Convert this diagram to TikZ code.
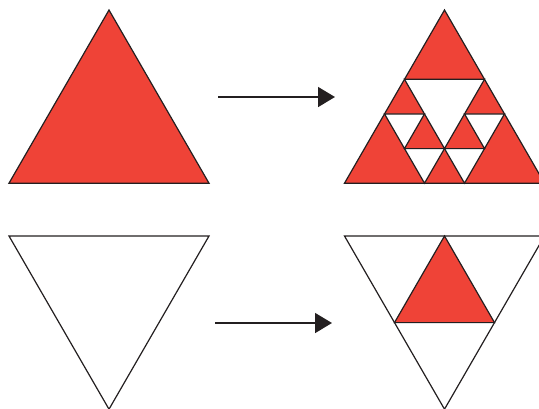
\documentclass[tikz,border=0pt]{standalone}
\usepackage{tikz}
\usetikzlibrary{arrows.meta}
\usepackage{xcolor}
\definecolor{sierred}{RGB}{239, 67, 55}
\definecolor{inkline}{RGB}{35, 31, 32}

\begin{document}
\begin{tikzpicture}[
        x=1pt, y=-1pt,
        redtri/.style={fill=sierred, draw=inkline, line width=1.2pt, line join=miter},
        holetri/.style={fill=white, draw=inkline, line width=1.2pt, line join=miter},
        arrow/.style={-{Triangle[length=17pt, width=20pt]}, line width=1.6pt, draw=inkline},
    ]
        \useasboundingbox (0,0) rectangle (539,408);

        % top row: full triangle -> subdivided triangle
        \draw[redtri] (109,10) -- (9,183.2) -- (209,183.2) -- cycle;

        \coordinate (top arrow start) at (218,97);
        \coordinate (top arrow end) at (335,97);
        \draw[arrow] (top arrow start) -- (top arrow end);

        \draw[redtri] (444.5,10) -- (344.5,183.2) -- (544.5,183.2) -- cycle;
        \draw[holetri] (404.5,79.3) -- (484.5,79.3) -- (444.5,148.6) -- cycle;
        \draw[holetri] (384.5,113.9) -- (424.5,113.9) -- (404.5,148.6) -- cycle;
        \draw[holetri] (464.5,113.9) -- (504.5,113.9) -- (484.5,148.6) -- cycle;
        \draw[holetri] (404.5,148.6) -- (444.5,148.6) -- (424.5,183.2) -- cycle;
        \draw[holetri] (444.5,148.6) -- (484.5,148.6) -- (464.5,183.2) -- cycle;

        % bottom row: empty inverted triangle -> one red triangle inside
        \draw[holetri] (9,236) -- (209,236) -- (109,409.2) -- cycle;

        \coordinate (bottom arrow start) at (215,323);
        \coordinate (bottom arrow end) at (332,323);
        \draw[arrow] (bottom arrow start) -- (bottom arrow end);

        \draw[holetri] (344.5,236) -- (544.5,236) -- (444.5,409.2) -- cycle;
        \draw[redtri] (444.5,236) -- (394.5,322.6) -- (494.5,322.6) -- cycle;

    \end{tikzpicture}
\end{document}
